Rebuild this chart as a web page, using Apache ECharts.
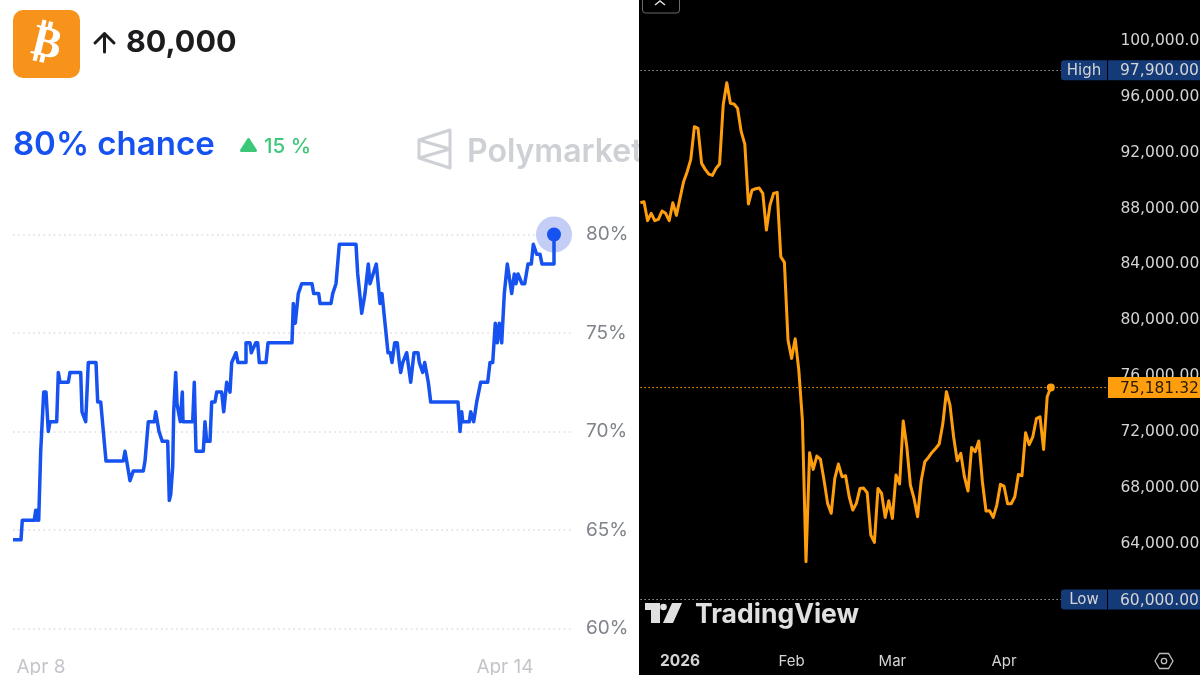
<!DOCTYPE html>
<html>
<head>
<meta charset="utf-8">
<title>Bitcoin 80,000 chance vs price</title>
<script src="https://cdn.jsdelivr.net/npm/echarts@6/dist/echarts.min.js"></script>
<style>
    html, body { margin: 0; padding: 0; background: #fff; overflow: hidden; }
    #poly_chart { position: absolute; left: 0; top: 0; width: 639px; height: 675px; overflow: hidden; }
    #price_chart { position: absolute; left: 639px; top: 0; width: 561px; height: 675px; overflow: hidden; background: #000; }
</style>
</head>
<body>
<div id="poly_chart"></div>
<div id="price_chart"></div>
<script>
// left panel: [time step, chance %], one step is about 19 minutes
var polyPoints = [
    [0, 64.5], [8, 64.5], [9.3, 65.5], [21.3, 65.5], [22.7, 66], [23.7, 65.5], [24.3, 66], [25.7, 65.5], [27.7, 69], [30.7, 72],
    [33, 72], [35.3, 70], [37, 70.5], [43.7, 70.5], [45.3, 73], [47, 73], [47, 72.5], [55.3, 72.5], [57, 73], [67.7, 73],
    [69, 71], [72.7, 70.5], [75.3, 73.5], [83, 73.5], [84.7, 71.5], [87.7, 71.5], [93, 68.5], [110.3, 68.5], [112, 69], [113.7, 68.5],
    [115.7, 68.5], [117, 67.5], [119, 67.5], [120.3, 68], [130.3, 68], [132, 68.5], [134, 68.5], [135.3, 70.5], [141.3, 70.5], [142.7, 71],
    [144.3, 71], [146, 70], [147.7, 70], [149.3, 69.5], [154.7, 69.5], [156.3, 66.5], [157.7, 66.8], [159.7, 68.2], [160.7, 71], [162.7, 73],
    [164, 71.4], [167.3, 70.5], [169.3, 72], [170, 70.5], [179.7, 70.5], [181.3, 72.5], [183, 69], [190.3, 69], [192, 70.5], [193.7, 69.5],
    [197, 69.5], [198.7, 71.5], [202, 71.5], [203.7, 72], [208.7, 72], [210.7, 71], [213.7, 72.5], [217, 72], [218.7, 73.5], [220.3, 73.5],
    [223, 74], [225, 73.5], [233, 73.5], [233, 74.5], [237, 74.5], [238.3, 74], [240.3, 74], [242.7, 74.5], [244.7, 74.5], [246.3, 73.5],
    [253, 73.5], [255, 74.5], [279, 74.5], [280.3, 76.5], [282.3, 75.5], [284, 75.5], [285.3, 77], [287, 77], [288.7, 77.5], [299, 77.5],
    [300.7, 77], [305.7, 77], [307, 76.5], [318, 76.5], [319.7, 77], [321.7, 77], [323, 77.5], [324.7, 77.5], [326.3, 79.5], [343, 79.5],
    [344.7, 78], [346.3, 78], [348.7, 76], [352, 77], [353.7, 77], [355.3, 78.5], [357, 77.5], [359, 77.5], [363.3, 78.5], [367, 76.5],
    [369, 77], [371, 76.9], [373, 75], [375, 74], [377.3, 74], [379, 73.5], [381.7, 74.5], [384.3, 74.5], [386.3, 73.5], [387.7, 73],
    [389.7, 73.5], [393.7, 74], [397.7, 72.5], [401, 74], [405, 74], [406.3, 73.5], [409.7, 73], [411.7, 73.5], [413.7, 73.5], [415.3, 72.5],
    [417.7, 71.5], [445, 71.5], [447, 70], [448.7, 71], [449.7, 70.5], [456.3, 70.5], [457.7, 71], [459, 71], [460.7, 70.5], [463.7, 71.5],
    [465.7, 71.5], [467.7, 72.5], [474.7, 72.5], [477, 73.5], [479.7, 73.5], [482.3, 75.5], [484.3, 74.5], [486.3, 75.5], [488.7, 74.5], [490.3, 74.5],
    [491.3, 77], [494.3, 78.5], [498.7, 77], [501.3, 78], [503, 77.5], [505, 78], [507, 78], [509, 77.5], [511.7, 77.5], [515, 78.5],
    [518.3, 78.5], [520.3, 79.5], [522, 79.5], [523.7, 79], [527, 79], [529, 78.5], [541, 78.5], [541, 80]
];
var polyTicks = [60, 65, 70, 75, 80];
var polyDayTicks = [28, 492];
var polyDayLabels = ['Apr 8', 'Apr 14'];

// right panel: daily close from 2025-12-21
var btcStart = '2025-12-21';
var btcClose = [
    88420, 88490, 87130, 87655, 87130, 87225, 87825, 87655, 87130, 88420, 87510,
    88730, 89925, 90640, 91525, 93865, 93745, 91235, 90805, 90470, 90375, 90880, 91190, 95415, 97015, 95535,
    95485, 95175, 93505, 92620, 88325, 89325, 89420, 89470, 89090, 86460, 88255, 89090, 89160, 84550, 84145,
    78585, 77270, 78680, 76434, 72852, 62700, 70510, 69320, 70275, 70060, 68555, 66885, 66170, 68675, 69700,
    68795, 68865, 67360, 66405, 66885, 67955, 67980, 67645, 64615, 64090, 67955, 67600, 65880, 67075, 65810,
    68915, 68270, 72780, 70940, 68195, 67240, 65930, 68505, 69870, 70175, 70535, 70820, 71135, 72565, 74880,
    73925, 71655, 69940, 70465, 68795, 67765, 70895, 70585, 71350, 68435, 66335, 66360, 65880, 66765, 68245,
    68125, 66860, 66860, 67360, 68960, 68865, 71945, 71085, 71655, 72950, 73090, 70750, 74525, 75181.32
];
var btcHigh = 97900;
var btcLow = 60000;
var btcLast = 75181.32;
var btcDays = 131; // axis runs to the end of April
var monthTicks = { '2026-01-01': '2026', '2026-02-01': 'Feb', '2026-03-01': 'Mar', '2026-04-01': 'Apr' };

var btcDates = [];
for (var i = 0; i < btcDays; i++) {
    btcDates.push(new Date(Date.parse(btcStart) + i * 86400000).toISOString().slice(0, 10));
}

function money(v) {
    return v.toLocaleString('en-US', { minimumFractionDigits: 2, maximumFractionDigits: 2 });
}

var polyChart = echarts.init(document.getElementById('poly_chart'));
var BLUE = '#1652f0';
var WATERMARK = '#cdd0d5';
var lastPoly = polyPoints[polyPoints.length - 1];

polyChart.setOption({
    animation: false
    , backgroundColor: '#fff'
    , grid: { left: 13, top: 234.5, width: 560, height: 394, outerBoundsMode: 'none' }
    , xAxis: {
        type: 'value'
        , min: 0
        , max: 560
        , axisLine: { show: false }
        , axisTick: { show: false }
        , splitLine: { show: false }
        , axisLabel: {
            customValues: polyDayTicks
            , margin: 29
            , fontFamily: 'Inter'
            , fontSize: 19
            , color: '#c3c5ca'
            , formatter: function (v) { return polyDayLabels[polyDayTicks.indexOf(v)]; }
        }
    }
    , yAxis: {
        type: 'value'
        , position: 'right'
        , min: polyTicks[0]
        , max: polyTicks[polyTicks.length - 1]
        , interval: 5
        , axisLine: { show: false }
        , axisTick: { show: false }
        , splitLine: { lineStyle: { color: '#d8dadd', width: 1.5, type: [1.5, 3.6] } }
        , axisLabel: { margin: 13, fontFamily: 'Inter', fontSize: 19, color: '#7f838a', formatter: '{value}%' }
    }
    , series: [{
        // halo under the line end
        type: 'scatter'
        , z: 1
        , data: [lastPoly]
        , symbolSize: 36
        , clip: false
        , silent: true
        , itemStyle: { color: '#c3cdf6', opacity: 1 }
    }, {
        type: 'line'
        , z: 2
        , data: polyPoints
        , showSymbol: false
        , clip: false
        , lineStyle: { color: BLUE, width: 3.5, join: 'round' }
        , markPoint: {
            silent: true
            , label: { show: false }
            , data: [{ coord: lastPoly, symbol: 'circle', symbolSize: 14, itemStyle: { color: BLUE } }]
        }
    }]
    , graphic: [
        { type: 'rect', shape: { x: 13, y: 10, width: 67, height: 68, r: 10 }, style: { fill: '#f7931a' } }
        , { type: 'text', x: 46.5, y: 45, rotation: -0.24, style: { text: '\u20bf', font: 'bold 44px "DejaVu Sans"', fill: '#fff', textAlign: 'center', textVerticalAlign: 'middle' } }
        , { type: 'polyline', shape: { points: [[95, 43], [104.5, 33.5], [114, 43]] }, style: { stroke: '#1c1c1e', lineWidth: 3, fill: null, lineCap: 'round', lineJoin: 'round' } }
        , { type: 'line', shape: { x1: 104.5, y1: 34, x2: 104.5, y2: 52 }, style: { stroke: '#1c1c1e', lineWidth: 3, lineCap: 'round' } }
        , { type: 'text', x: 126, y: 43, style: { text: '80,000', font: '700 30.5px Inter', fill: '#1c1c1e', textVerticalAlign: 'middle' } }
        , { type: 'text', x: 13, y: 145, style: { text: '80% chance', font: '600 33px Inter', fill: BLUE, textVerticalAlign: 'middle' } }
        , { type: 'polygon', shape: { points: [[248.5, 139.5], [255.5, 150.5], [241.5, 150.5]] }, style: { fill: '#3cc878', stroke: '#3cc878', lineWidth: 3, lineJoin: 'round' } }
        , { type: 'text', x: 264, y: 147, style: { text: '15 %', font: '500 20.5px Inter', fill: '#3cc878', textVerticalAlign: 'middle' } }
        , { type: 'polyline', shape: { points: [[450, 149], [419, 140], [450, 130], [450, 168], [419, 158], [450, 149]] }, style: { stroke: WATERMARK, lineWidth: 3, fill: null, lineJoin: 'round' } }
        , { type: 'line', shape: { x1: 419, y1: 140, x2: 419, y2: 158 }, style: { stroke: WATERMARK, lineWidth: 3 } }
        , { type: 'text', x: 467, y: 152, style: { text: 'Polymarket', font: '600 32px Inter', fill: WATERMARK, textVerticalAlign: 'middle' } }
    ]
});

var priceChart = echarts.init(document.getElementById('price_chart'));
var ORANGE = '#ff9e0d';
var LABEL = '#d4d4d4';
var TAG = '#153a78';
var PRICE_FONT = '"DejaVu Sans"';

function dottedLine(value, color) {
    return { yAxis: value, lineStyle: { color: color, width: 1, type: [1.5, 2.5] } };
}

priceChart.setOption({
    animation: false
    , backgroundColor: '#000'
    , grid: { left: 1.4, width: 468, top: 0, height: 599.5, outerBoundsMode: 'none' }
    , xAxis: {
        type: 'category'
        , data: btcDates
        , boundaryGap: false
        , axisLine: { show: false }
        , axisTick: { show: false }
        , splitLine: { show: false }
        , axisLabel: {
            margin: 54
            , fontFamily: 'Inter'
            , fontSize: 15
            , color: LABEL
            , interval: function (index, value) { return !!monthTicks[value]; }
            , formatter: function (value) {
                return value === '2026-01-01' ? '{year|' + monthTicks[value] + '}' : monthTicks[value];
            }
            , rich: { year: { fontFamily: 'Inter', fontSize: 15.5, fontWeight: 'bold', color: LABEL } }
        }
    }
    , yAxis: {
        type: 'value'
        , position: 'right'
        , min: 60000
        , max: 102937
        , interval: 4000
        , axisLine: { show: false }
        , axisTick: { show: false }
        , splitLine: { show: false }
        , axisLabel: {
            margin: 12
            , align: 'left'
            , fontFamily: PRICE_FONT
            , fontSize: 15.5
            , color: LABEL
            , formatter: function (v) { return v <= 60000 || v > 100000 ? '' : money(v); }
        }
    }
    , series: [{
        type: 'line'
        , data: btcClose
        , showSymbol: false
        , lineStyle: { color: ORANGE, width: 3, join: 'round' }
        , markLine: {
            silent: true
            , symbol: 'none'
            , label: { show: false }
            , data: [dottedLine(btcHigh, '#9a9a9a'), dottedLine(btcLow, '#9a9a9a'), dottedLine(btcLast, ORANGE)]
        }
        , markPoint: {
            silent: true
            , label: { show: false }
            , data: [{
                coord: [btcClose.length - 1, btcLast]
                , symbol: 'circle'
                , symbolSize: 8
                , itemStyle: { color: ORANGE }
            }]
        }
    }]
});

// price tags sit on the axis, so their y comes from the scale
function tagY(value) {
    return priceChart.convertToPixel({ yAxisIndex: 0 }, value);
}

function rangeTag(name, value) {
    var y = tagY(value);
    return [
        { type: 'rect', z: 50, shape: { x: 422, y: y - 10, width: 46, height: 20, r: [3, 0, 0, 3] }, style: { fill: TAG } }
        , { type: 'rect', z: 50, shape: { x: 469, y: y - 10, width: 92, height: 20 }, style: { fill: TAG } }
        , { type: 'text', z: 51, x: 445, y: y + 1, style: { text: name, font: '15px ' + PRICE_FONT, fill: LABEL, textAlign: 'center', textVerticalAlign: 'middle' } }
        , { type: 'text', z: 51, x: 481, y: y + 1, style: { text: money(value), font: '15.5px ' + PRICE_FONT, fill: LABEL, textVerticalAlign: 'middle' } }
    ];
}

var lastY = tagY(btcLast);
priceChart.setOption({
    graphic: [].concat(rangeTag('High', btcHigh), rangeTag('Low', btcLow), [
        { type: 'rect', z: 50, shape: { x: 469, y: lastY - 10.5, width: 92, height: 21 }, style: { fill: ORANGE } }
        , { type: 'text', z: 51, x: 481, y: lastY + 1, style: { text: money(btcLast), font: '15.5px ' + PRICE_FONT, fill: '#2a1a00', textVerticalAlign: 'middle' } }
        // close button at the top edge
        , { type: 'rect', shape: { x: 3.5, y: -8, width: 37, height: 21, r: 3 }, style: { stroke: '#6a6a6a', lineWidth: 1, fill: null } }
        , { type: 'polyline', shape: { points: [[16, 5], [21, 1], [26, 5]] }, style: { stroke: '#e0e0e0', lineWidth: 1.5, fill: null } }
        // TradingView watermark
        , { type: 'polygon', shape: { points: [[6, 603], [21, 603], [21, 623], [12, 623], [12, 610], [6, 610]] }, style: { fill: '#e0e0e0' } }
        , { type: 'circle', shape: { cx: 24.5, cy: 607, r: 3.3 }, style: { fill: '#e0e0e0' } }
        , { type: 'polygon', shape: { points: [[33, 603], [43, 603], [34, 623], [24, 623]] }, style: { fill: '#e0e0e0' } }
        , { type: 'text', x: 56, y: 615, style: { text: 'TradingView', font: '700 26.5px Inter', fill: '#e0e0e0', textVerticalAlign: 'middle' } }
        // settings icon
        , { type: 'polygon', shape: { points: [[516, 661], [520.5, 653.5], [529.5, 653.5], [534, 661], [529.5, 668.5], [520.5, 668.5]] }, style: { stroke: '#bdbdbd', lineWidth: 1.3, fill: null } }
        , { type: 'circle', shape: { cx: 525, cy: 661, r: 2.7 }, style: { stroke: '#bdbdbd', lineWidth: 1.3, fill: null } }
    ])
});
</script>
</body>
</html>
